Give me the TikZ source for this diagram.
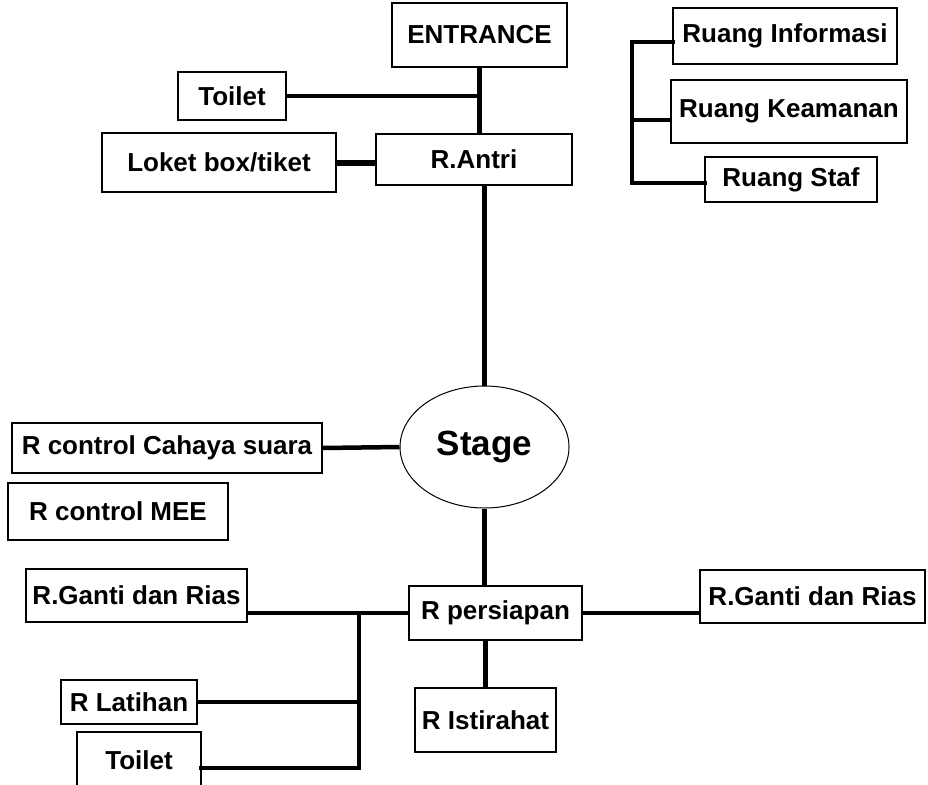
\documentclass[tikz,border=0pt]{standalone}
\usepackage{fontspec}
\setmainfont{Liberation Sans}
\usetikzlibrary{shapes.geometric}
\begin{document}
\begin{tikzpicture}[x=1pt,y=-1pt,
  room/.style={draw, line width=1.4pt, inner sep=0pt, font=\fontsize{26}{29}\selectfont\bfseries},
  link/.style={line width=4.5pt},
]
\useasboundingbox[fill=white] (0,0) rectangle (928,784);
% top group
\node[room, minimum width=175, minimum height=64] (ent) at (479.5,35) {ENTRANCE};
\node[room, minimum width=108, minimum height=48] (toiletA) at (232,96) {Toilet};
\node[room, minimum width=234, minimum height=59] (loket) at (219,162.5) {Loket box/tiket};
\node[room, minimum width=196, minimum height=51] (antri) at (474,159.5) {R.Antri};
% right top group
\node[room, minimum width=224, minimum height=56] (info) at (785,36) {Ruang Informasi};
\node[room, minimum width=236, minimum height=63] (keam) at (789,111.5) {Ruang Keamanan};
\node[room, minimum width=172, minimum height=45] (staf) at (791,179.5) {Ruang Staf};
\coordinate (bt) at (632,42);
\coordinate (km) at (632,120);
\coordinate (bb) at (632,183);
% stage
\node[draw, ellipse, line width=1pt, inner sep=0pt, minimum width=169, minimum height=122,
      font=\fontsize{35}{40}\selectfont\bfseries] (stage) at (484.5,447) {Stage};
\node[room, minimum width=310, minimum height=50] (cahaya) at (167,448) {R control Cahaya suara};
\node[room, minimum width=220, minimum height=57] (mee) at (118,511.5) {R control MEE};
% bottom
\node[room, minimum width=173, minimum height=54] (persiapan) at (495.5,613) {R persiapan};
\node[room, minimum width=221, minimum height=53] (gantiL) at (136.5,595.5) {R.Ganti dan Rias};
\node[room, minimum width=225, minimum height=53] (gantiR) at (812.5,596.5) {R.Ganti dan Rias};
\node[room, minimum width=136, minimum height=44] (latihan) at (129,702) {R Latihan};
\node[room, minimum width=124, minimum height=56] (toiletB) at (139,760) {Toilet};
\node[room, minimum width=141, minimum height=64] (istirahat) at (485.5,720) {R Istirahat};
\coordinate (j) at (359,613);
\coordinate (jb) at (359,768);
% connectors
\draw[link] (ent.south) -- (ent.south |- antri.north);
\draw[link] (toiletA.east) -- (toiletA.east -| ent.south);
\draw[link, line width=6pt] (loket.east) -- (loket.east -| antri.west);
\draw[link] (stage.north) -- (stage.north |- antri.south);
\draw[link, line cap=rect] (info.west |- bt) -- (bt) -- (bb) -- (staf.west |- bb);
\draw[link] (km) -- (km -| keam.west);
\draw[link] (cahaya.east) -- (stage.west);
\draw[link] (stage.south) -- (stage.south |- persiapan.north);
\draw[link] (istirahat.north) -- (istirahat.north |- persiapan.south);
\draw[link] (persiapan.west) -- (persiapan.west -| gantiL.east);
\draw[link] (persiapan.east) -- (persiapan.east -| gantiR.west);
\draw[link] (latihan.east) -- (latihan.east -| j);
\draw[link, line cap=rect] (j) -- (jb) -- (jb -| toiletB.east);
\end{tikzpicture}
\end{document}
